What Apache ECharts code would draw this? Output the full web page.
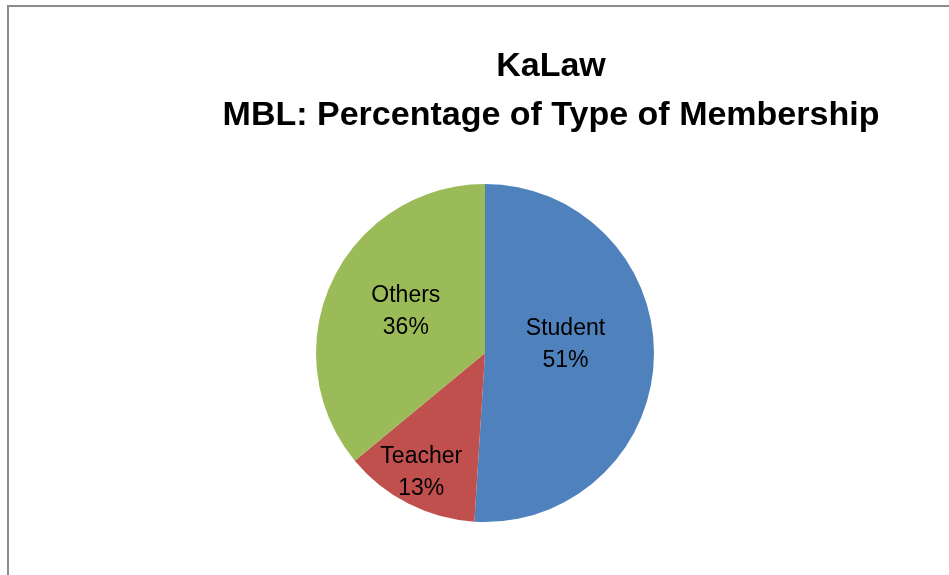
<!DOCTYPE html>
<html>
<head>
<meta charset="utf-8">
<script src="https://cdn.jsdelivr.net/npm/echarts@6/dist/echarts.min.js"></script>
<style>
  html, body { margin: 0; padding: 0; background: #fff; }
  #chart { width: 949px; height: 575px; }
</style>
</head>
<body>
<div id="chart"></div>
<script>
// membership share data
var categories = ['Student', 'Teacher', 'Others'];
var values = [51, 13, 36];
var colors = ['#4F81BD', '#C0504D', '#9BBB59'];

var chart = echarts.init(document.getElementById('chart'));

// label nudges so they sit where Excel put them
var labelOffsets = {
  Student: [-7, -11],
  Teacher: [-24, 42],
  Others: [0, -4]
};

var pieData = categories.map(function (name, i) {
  return {
    name: name,
    value: values[i],
    itemStyle: { color: colors[i] },
    label: { offset: labelOffsets[name] }
  };
});

var option = {
  backgroundColor: '#fff',
  animation: false,
  title: {
    text: 'KaLaw\nMBL: Percentage of Type of Membership',
    left: 546,
    top: 37,
    textAlign: 'center',
    textStyle: {
      fontFamily: 'Liberation Sans',
      fontWeight: 'bold',
      fontSize: 34,
      lineHeight: 49,
      color: '#000'
    }
  },
  graphic: [{
    type: 'rect',
    shape: { x: 8, y: 6, width: 960, height: 600 },
    style: { fill: 'none', stroke: '#8c8c8c', lineWidth: 2 },
    silent: true
  }],
  series: [{
    type: 'pie',
    center: [485, 353],
    radius: 169,
    startAngle: 90,
    clockwise: true,
    data: pieData,
    itemStyle: { borderWidth: 0 },
    label: {
      show: true,
      position: 'inside',
      formatter: '{b}\n{d}%',
      fontFamily: 'Liberation Sans',
      fontSize: 23,
      lineHeight: 32,
      color: '#000'
    },
    labelLine: { show: false }
  }]
};

chart.setOption(option);
</script>
</body>
</html>
